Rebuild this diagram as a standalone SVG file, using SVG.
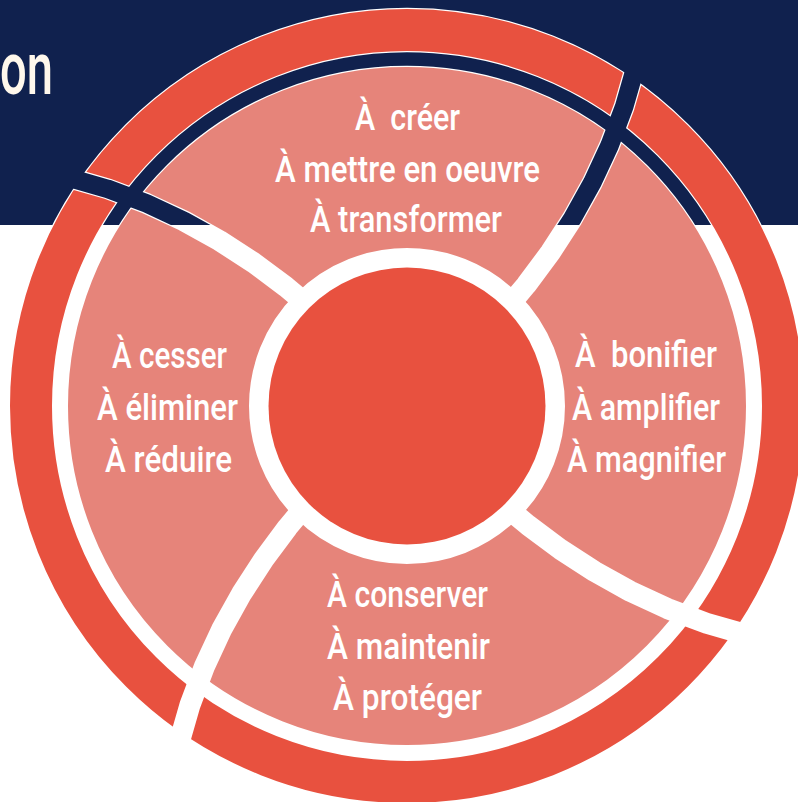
<svg xmlns="http://www.w3.org/2000/svg" xmlns:xlink="http://www.w3.org/1999/xlink" width="798" height="802" viewBox="0 0 798 802">
<defs>
<style>
.lbl{font-family:Roboto,"Liberation Sans",sans-serif;font-size:36px;font-weight:500;fill:#ffffff;text-anchor:middle}
.pink{fill:none;stroke:#E6847A;stroke-width:181}
.red{fill:none;stroke:#E8513F;stroke-width:42}
</style>
<path id="sep" d="M129.98,2.24 L169.995,-1.30 L209.88,-7.19 L249.51,-15.64 L288.76,-26.83 L327.45,-40.96 L365.40,-58.19 L402.37,-78.70 L420.43,-90.22"/>
<path id="wedge" d="M0,0 L129.98,2.24 L169.995,-1.30 L209.88,-7.19 L249.51,-15.64 L288.76,-26.83 L327.45,-40.96 L365.40,-58.19 L402.37,-78.70 L420.43,-90.22 A430,430 0 0 1 90.22,420.43 L78.70,402.37 L58.19,365.40 L40.96,327.45 L26.83,288.76 L15.64,249.51 L7.19,209.88 L1.30,169.995 L-2.24,129.98 Z"/>
<mask id="gaps" maskUnits="userSpaceOnUse" x="0" y="0" width="798" height="802">
<rect width="798" height="802" fill="#fff"/>
<g transform="translate(407 406)" fill="none" stroke="#000" stroke-width="21" stroke-linejoin="round">
<use xlink:href="#sep" transform="rotate(45)"/>
<use xlink:href="#sep" transform="rotate(135)"/>
<use xlink:href="#sep" transform="rotate(225)"/>
<use xlink:href="#sep" transform="rotate(315)"/>
</g>
</mask>
<mask id="gapsOutline" maskUnits="userSpaceOnUse" x="0" y="0" width="798" height="802">
<rect width="798" height="802" fill="#fff"/>
<g transform="translate(407 406)" fill="none" stroke="#000" stroke-width="18.5" stroke-linejoin="round">
<use xlink:href="#sep" transform="rotate(45)"/>
<use xlink:href="#sep" transform="rotate(135)"/>
<use xlink:href="#sep" transform="rotate(225)"/>
<use xlink:href="#sep" transform="rotate(315)"/>
</g>
</mask>
<clipPath id="cBottom"><use xlink:href="#wedge" transform="translate(407 406) rotate(45)"/></clipPath>
<clipPath id="cLeft"><use xlink:href="#wedge" transform="translate(407 406) rotate(135)"/></clipPath>
<clipPath id="cTop"><use xlink:href="#wedge" transform="translate(407 406) rotate(225)"/></clipPath>
<clipPath id="cRight"><use xlink:href="#wedge" transform="translate(407 406) rotate(315)"/></clipPath>
</defs>

<g id="background">
<rect x="0" y="0" width="798" height="802" fill="#ffffff"/>
<rect x="0" y="0" width="798" height="225" fill="#10214E"/>
<text x="0" y="94" font-family="Roboto,'Liberation Sans',sans-serif" font-size="74" font-weight="500" fill="#FFF8EC" textLength="53" lengthAdjust="spacingAndGlyphs">on</text>
</g>

<g id="outline" mask="url(#gapsOutline)" fill="none" stroke="#ffffff">
<circle cx="407" cy="406" r="248.5" stroke-width="183.5"/>
<circle cx="407" cy="406" r="376" stroke-width="44.5"/>
</g>

<g id="node-top">
<g clip-path="url(#cTop)" mask="url(#gaps)">
<circle class="pink" cx="407" cy="406" r="248.5"/>
<circle class="red" cx="407" cy="406" r="376"/>
</g>
<text class="lbl" x="407.5" y="129.5" textLength="105" lengthAdjust="spacingAndGlyphs" xml:space="preserve">À  créer</text>
<text class="lbl" x="407.5" y="181.7" textLength="265" lengthAdjust="spacingAndGlyphs">À mettre en oeuvre</text>
<text class="lbl" x="406" y="231.7" textLength="192" lengthAdjust="spacingAndGlyphs">À transformer</text>
</g>

<g id="node-right">
<g clip-path="url(#cRight)" mask="url(#gaps)">
<circle class="pink" cx="407" cy="406" r="248.5"/>
<circle class="red" cx="407" cy="406" r="376"/>
</g>
<text class="lbl" x="646" y="366.7" textLength="142" lengthAdjust="spacingAndGlyphs" xml:space="preserve">À  bonifier</text>
<text class="lbl" x="646" y="420" textLength="148" lengthAdjust="spacingAndGlyphs">À amplifier</text>
<text class="lbl" x="646.5" y="471.7" textLength="159" lengthAdjust="spacingAndGlyphs">À magnifier</text>
</g>

<g id="node-bottom">
<g clip-path="url(#cBottom)" mask="url(#gaps)">
<circle class="pink" cx="407" cy="406" r="248.5"/>
<circle class="red" cx="407" cy="406" r="376"/>
</g>
<text class="lbl" x="407.5" y="606.7" textLength="161" lengthAdjust="spacingAndGlyphs">À conserver</text>
<text class="lbl" x="408.5" y="659.3" textLength="163" lengthAdjust="spacingAndGlyphs">À maintenir</text>
<text class="lbl" x="407.5" y="710" textLength="149" lengthAdjust="spacingAndGlyphs">À protéger</text>
</g>

<g id="node-left">
<g clip-path="url(#cLeft)" mask="url(#gaps)">
<circle class="pink" cx="407" cy="406" r="248.5"/>
<circle class="red" cx="407" cy="406" r="376"/>
</g>
<text class="lbl" x="169.5" y="368" textLength="115" lengthAdjust="spacingAndGlyphs">À cesser</text>
<text class="lbl" x="167.5" y="420" textLength="141" lengthAdjust="spacingAndGlyphs">À éliminer</text>
<text class="lbl" x="168.5" y="471.7" textLength="127" lengthAdjust="spacingAndGlyphs">À réduire</text>
</g>

<g id="node-center">
<circle cx="407" cy="406" r="138.5" fill="#E8513F"/>
</g>
</svg>
